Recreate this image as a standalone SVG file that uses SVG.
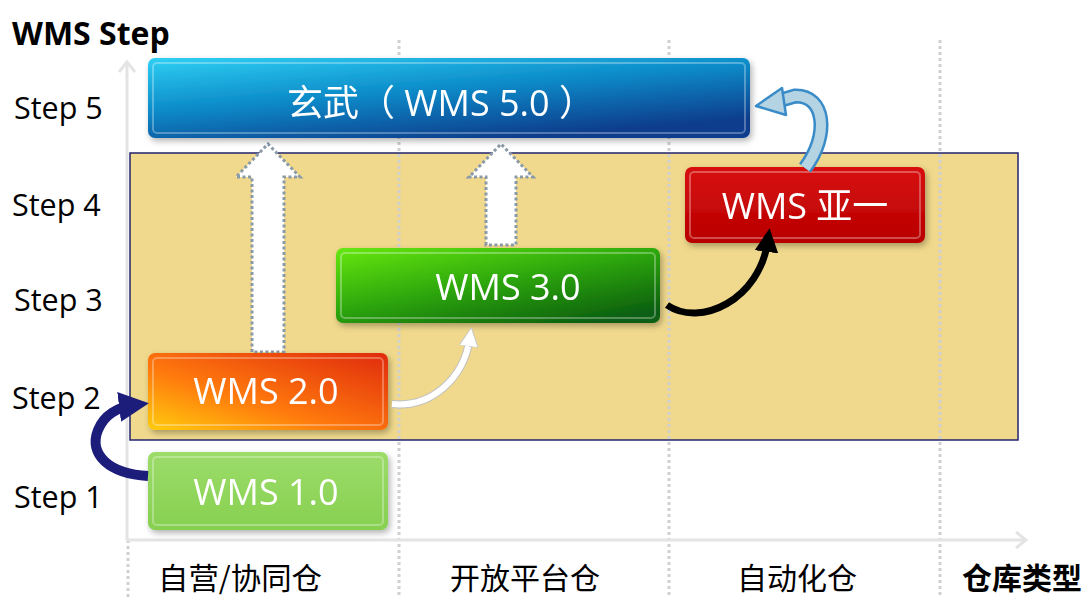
<svg xmlns="http://www.w3.org/2000/svg" width="1086" height="598" viewBox="0 0 1086 598">
<defs>
<style>
.step{font-family:"Open Sans","Noto Sans",sans-serif;font-size:30.5px;fill:#000}
.lbl{font-family:"Noto Sans CJK SC","Noto Sans",sans-serif;font-size:30px;fill:#000}
.bt{font-family:"Open Sans","Noto Sans","Noto Sans CJK SC",sans-serif;font-size:36px;fill:#fff;text-anchor:middle}
.grid{stroke:#d0d0d0;stroke-width:3;stroke-dasharray:3 3;fill:none}
.axis{stroke:#e4e4e4;stroke-width:3;fill:none}
.bigarrow{fill:#fff;stroke:#8a9aa8;stroke-width:3;stroke-dasharray:3 2.5}
.hl{fill:none;stroke:#fff;stroke-opacity:0.3;stroke-width:2}
</style>
<filter id="sh" x="-10%" y="-20%" width="120%" height="150%">
<feDropShadow dx="2" dy="3" stdDeviation="3" flood-color="#000" flood-opacity="0.3"/>
</filter>
<linearGradient id="gBlue" x1="0" y1="0" x2="0.6" y2="1">
<stop offset="0" stop-color="#2fd0f4"/>
<stop offset="0.5" stop-color="#0b8ac8"/>
<stop offset="1" stop-color="#0a3d8c"/>
</linearGradient>
<linearGradient id="gRed" x1="0" y1="0" x2="0" y2="1">
<stop offset="0" stop-color="#d81010"/>
<stop offset="1" stop-color="#b80000"/>
</linearGradient>
<linearGradient id="gGreen" x1="0" y1="0" x2="0.8" y2="1">
<stop offset="0" stop-color="#66e812"/>
<stop offset="0.5" stop-color="#2ea80c"/>
<stop offset="1" stop-color="#0b5e12"/>
</linearGradient>
<linearGradient id="gOrange" x1="0" y1="1" x2="1" y2="0">
<stop offset="0" stop-color="#ffcc10"/>
<stop offset="0.4" stop-color="#ff7a10"/>
<stop offset="1" stop-color="#e02a08"/>
</linearGradient>
<linearGradient id="gLight" x1="0" y1="0" x2="0" y2="1">
<stop offset="0" stop-color="#9cdc6a"/>
<stop offset="1" stop-color="#86d050"/>
</linearGradient>
<marker id="mNavy" viewBox="0 0 10 10" refX="5" refY="5" markerWidth="3" markerHeight="3" orient="auto">
<path d="M0,0 L10,5 L0,10 z" fill="#1c1c7a"/>
</marker>
<marker id="mBlack" viewBox="0 0 10 10" refX="5" refY="5" markerWidth="3.4" markerHeight="3.4" orient="auto">
<path d="M0,0 L10,5 L0,10 z" fill="#000"/>
</marker>
<marker id="mWhite" viewBox="0 0 10 10" refX="5" refY="5" markerWidth="3.2" markerHeight="3.2" orient="auto">
<path d="M0,0 L10,5 L0,10 z" fill="#fff" stroke="#c8c8c8" stroke-width="0.5"/>
</marker>
</defs>
<rect width="1086" height="598" fill="#fff"/>

<g id="background">
<rect x="130" y="153" width="888" height="287" fill="#f0d98c" stroke="#23236e" stroke-width="1.5"/>
<line class="grid" x1="128" y1="540" x2="128" y2="598"/>
<line class="grid" x1="399" y1="40" x2="399" y2="598"/>
<line class="grid" x1="669" y1="40" x2="669" y2="598"/>
<line class="grid" x1="940" y1="40" x2="940" y2="598"/>
<line class="axis" x1="127" y1="540" x2="127" y2="62"/>
<path class="axis" d="M119,72 L127,62 L135,72"/>
<line class="axis" x1="127" y1="540" x2="1026" y2="540"/>
<path class="axis" d="M1016,532 L1026,540 L1016,548"/>
</g>

<g id="title">
<text x="12" y="45" font-family="Open Sans, Noto Sans, sans-serif" font-size="32" font-weight="bold">WMS Step</text>
</g>
<g id="step-labels">
<text class="step" x="14" y="119">Step 5</text>
<text class="step" x="12" y="216">Step 4</text>
<text class="step" x="14" y="311">Step 3</text>
<text class="step" x="12" y="409">Step 2</text>
<text class="step" x="14" y="508">Step 1</text>
</g>
<g id="category-labels">
<text class="lbl" x="240" y="589" text-anchor="middle" textLength="164" lengthAdjust="spacingAndGlyphs">自营/协同仓</text>
<text class="lbl" x="525" y="589" text-anchor="middle">开放平台仓</text>
<text class="lbl" x="797" y="589" text-anchor="middle">自动化仓</text>
<text class="lbl" x="1022" y="589" text-anchor="middle" font-weight="bold">仓库类型</text>
</g>

<g id="up-arrows">
<path class="bigarrow" d="M252,352 L252,177 L236,177 L268,144 L300,177 L284,177 L284,352 Z"/>
<path class="bigarrow" d="M486,245 L486,177 L469,177 L501,144 L533,177 L516,177 L516,245 Z"/>
</g>

<g id="node-wms50" filter="url(#sh)">
<rect x="148" y="58" width="602" height="80" rx="7" fill="url(#gBlue)"/>
<rect x="153" y="63" width="592" height="70" rx="4" class="hl"/>
<text class="bt" x="441" y="116">玄武（ WMS 5.0 ）</text>
</g>
<g id="node-wmsyayi" filter="url(#sh)">
<rect x="685" y="167" width="240" height="76" rx="7" fill="url(#gRed)"/>
<rect x="690" y="172" width="230" height="66" rx="4" class="hl"/>
<text class="bt" x="805" y="219">WMS 亚一</text>
</g>
<g id="node-wms30" filter="url(#sh)">
<rect x="336" y="248" width="324" height="75" rx="7" fill="url(#gGreen)"/>
<rect x="341" y="253" width="314" height="65" rx="4" class="hl"/>
<text class="bt" x="508" y="300">WMS 3.0</text>
</g>
<g id="node-wms20" filter="url(#sh)">
<rect x="148" y="353" width="240" height="77" rx="7" fill="url(#gOrange)"/>
<rect x="153" y="358" width="230" height="67" rx="4" class="hl"/>
<text class="bt" x="266" y="404">WMS 2.0</text>
</g>
<g id="node-wms10" filter="url(#sh)">
<rect x="148" y="452" width="240" height="78" rx="7" fill="url(#gLight)"/>
<rect x="153" y="457" width="230" height="68" rx="4" class="hl"/>
<text class="bt" x="266" y="505">WMS 1.0</text>
</g>

<g id="connectors">
<path d="M148,476 C110,474 88,455 98,430 C104,415 118,407 134,405" fill="none" stroke="#1c1c7a" stroke-width="10" marker-end="url(#mNavy)"/>
<path d="M392,404 C430,408 464,380 470,337" fill="none" stroke="#c0c0c0" stroke-width="8"/>
<path d="M392,404 C430,408 464,380 470,337" fill="none" stroke="#fff" stroke-width="6" marker-end="url(#mWhite)"/>
<path d="M667,305 C700,328 760,300 768,240" fill="none" stroke="#000" stroke-width="7" marker-end="url(#mBlack)"/>
<path d="M805,168 C830,135 825,95 795,96 L778,101" fill="none" stroke="#3a8cc8" stroke-width="15"/>
<path d="M805,168 C830,135 825,95 795,96 L778,101" fill="none" stroke="#b4d4e4" stroke-width="10"/>
<path d="M756,106 L782,88 L786,115 Z" fill="#b4d4e4" stroke="#3a8cc8" stroke-width="2.5" stroke-linejoin="round"/>
</g>
</svg>
